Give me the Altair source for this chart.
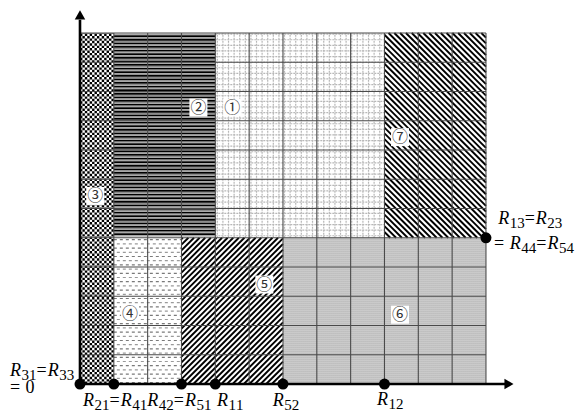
import altair as alt
import numpy as np
import pandas as pd

# ---- data ----
region_names = ["①", "②", "③", "④", "⑤", "⑥", "⑦"]
region_x0 = [4, 1, 0, 1, 3, 6, 9]
region_x1 = [9, 4, 1, 3, 6, 12, 12]
region_y0 = [5, 5, 0, 0, 0, 0, 5]
region_y1 = [12, 12, 12, 5, 5, 5, 12]
label_x = [4.5, 3.5, 0.45, 1.48, 5.45, 9.46, 9.46]
label_y = [9.45, 9.45, 6.43, 2.4, 3.4, 2.37, 8.44]

grid_ticks = list(range(13))

point_x = [0, 1, 3, 4, 6, 9, 12]
point_y = [0, 0, 0, 0, 0, 0, 5]

r_text = ["R31=R33", "= 0", "R21=R41R42=R51", "R11", "R52", "R12", "R13=R23", "= R44=R54"]
r_x = [-2.07, -2.07, 0.09, 4.05, 5.70, 8.78, 12.36, 12.24]
r_y = [0.27, -0.31, -0.75, -0.75, -0.75, -0.72, 5.47, 4.62]

# ---- layout ----
W, H = 571, 405
XD = [-2.128, 14.750]
SX = W / (XD[1] - XD[0])
SY = 29.25
YD = [12.855 - H / SY, 12.855]

xs = alt.Scale(domain=XD, nice=False, zero=False)
ys = alt.Scale(domain=YD, nice=False, zero=False)


def enc_seg():
    return dict(x=alt.X("x:Q", scale=xs, axis=None), x2="x2:Q",
                y=alt.Y("y:Q", scale=ys, axis=None), y2="y2:Q")


def enc_pt():
    return dict(x=alt.X("x:Q", scale=xs, axis=None), y=alt.Y("y:Q", scale=ys, axis=None))


def rule_layer(rows, **props):
    df = pd.DataFrame(rows, columns=["x", "y", "x2", "y2"])
    return alt.Chart(df).mark_rule(**props).encode(**enc_seg())


def reg(i):
    return region_x0[i], region_x1[i], region_y0[i], region_y1[i]


def hlines(i, period, offset=0.0):
    x0, x1, y0, y1 = reg(i)
    ys_ = np.arange(y0 * SY + offset, y1 * SY, period) / SY
    return [(x0, v, x1, v) for v in ys_ if v > y0]


def vlines(i, period, offset=0.0):
    x0, x1, y0, y1 = reg(i)
    xs_ = np.arange(x0 * SX + offset, x1 * SX, period) / SX
    return [(v, y0, v, y1) for v in xs_ if v > x0]


def diag(i, period, direction):
    x0, x1, y0, y1 = reg(i)
    X0, X1, Y0, Y1 = x0 * SX, x1 * SX, y0 * SY, y1 * SY
    segs = []
    if direction > 0:
        for c in np.arange(Y0 - X1, Y1 - X0, period):
            xa = max(X0, Y0 - c); xb = min(X1, Y1 - c)
            if xb - xa > 0.5:
                segs.append((xa / SX, (xa + c) / SY, xb / SX, (xb + c) / SY))
    else:
        for c in np.arange(X0 + Y0, X1 + Y1, period):
            xa = max(X0, c - Y1); xb = min(X1, c - Y0)
            if xb - xa > 0.5:
                segs.append((xa / SX, (c - xa) / SY, xb / SX, (c - xb) / SY))
    return segs


layers = []

# region fills
reg_df = pd.DataFrame({"name": region_names, "x": region_x0, "x2": region_x1,
                       "y": region_y0, "y2": region_y1})
fill_colors = ["#ffffff", "#ffffff", "#ffffff", "#ffffff", "#ffffff", "#cacaca", "#ffffff"]
layers.append(alt.Chart(reg_df).mark_rect(strokeWidth=0).encode(
    **enc_seg(),
    color=alt.Color("name:N", scale=alt.Scale(domain=region_names, range=fill_colors), legend=None)))

# ③ checkerboard
cw = SX / 14
chk_a, chk_b = [], []
for k in range(14):
    xc = (k + 0.5) * cw / SX
    (chk_a if k % 2 == 0 else chk_b).append((xc, 0, xc, 12))
layers.append(rule_layer(chk_a, color="black", strokeWidth=cw, strokeDash=[cw, cw]))
layers.append(rule_layer(chk_b, color="black", strokeWidth=cw, strokeDash=[cw, cw], strokeDashOffset=cw))

# ② horizontal stripes
layers.append(rule_layer(hlines(1, 3.6, 1.9), color="#8c8c8c", strokeWidth=1.2))
layers.append(rule_layer(hlines(1, 3.6, 0.0), color="#000000", strokeWidth=1.8))

# ① fine dashed grid
layers.append(rule_layer(vlines(0, 5.6, 2.0), color="#b8b8b8", strokeWidth=1.2, strokeDash=[2, 1]))
layers.append(rule_layer(hlines(0, 5.6, 2.0), color="#b8b8b8", strokeWidth=1.2, strokeDash=[2, 1]))

# ④ dashed horizontal lines
h4 = hlines(3, 4.2, 1.5)
layers.append(rule_layer(h4[0::2], color="#7a7a7a", strokeWidth=1.2, strokeDash=[3, 3]))
layers.append(rule_layer(h4[1::2], color="#9a9a9a", strokeWidth=1.2, strokeDash=[3, 3], strokeDashOffset=3))

# ⑤ "/" hatching, ⑦ "\" hatching
layers.append(rule_layer(diag(4, 5.6, 1), color="black", strokeWidth=1.9))
layers.append(rule_layer(diag(6, 5.8, -1), color="black", strokeWidth=1.9))

# ⑥ fine texture
layers.append(rule_layer(vlines(5, 2.0, 1.0), color="#b0b0b0", strokeWidth=0.8, strokeDash=[1, 1]))

# grid lines
g = [t for t in grid_ticks if t > 0]
layers.append(rule_layer([(t, 0, t, 12) for t in g], color="#4a4a4a", strokeWidth=1.1))
layers.append(rule_layer([(0, t, 12, t) for t in g], color="#4a4a4a", strokeWidth=1.1))

# axes
axes_rows = [(0, 0, 0, 12.45), (0, 0, 12.6, 0)]
layers.append(rule_layer(axes_rows, color="black", strokeWidth=2.6))
arrow_df = pd.DataFrame({"x": [0, 12.68], "y": [12.62, 0], "shape": ["triangle-up", "triangle-right"]})
layers.append(alt.Chart(arrow_df).mark_point(filled=True, color="black", size=110, opacity=1).encode(
    **enc_pt(), shape=alt.Shape("shape:N", scale=None)))

# points
pt_df = pd.DataFrame({"x": point_x, "y": point_y})
layers.append(alt.Chart(pt_df).mark_circle(color="black", size=120, opacity=1).encode(**enc_pt()))

# region labels with white boxes
lab_df = pd.DataFrame({"name": region_names, "x": label_x, "y": label_y})
lab_df["bx"] = lab_df["x"] - 9 / SX
lab_df["bx2"] = lab_df["x"] + 9 / SX
lab_df["by"] = lab_df["y"] - 9 / SY
lab_df["by2"] = lab_df["y"] + 9 / SY
layers.append(alt.Chart(lab_df).mark_rect(color="white").encode(
    x=alt.X("bx:Q", scale=xs, axis=None), x2="bx2:Q",
    y=alt.Y("by:Q", scale=ys, axis=None), y2="by2:Q"))
layers.append(alt.Chart(lab_df).mark_text(font="Noto Sans CJK JP", fontSize=16, color="#333333",
                                          align="center", baseline="middle").encode(
    **enc_pt(), text="name:N"))

# R labels: italic R, upright '=' and digits, lowered subscripts
MAIN, SUB, SUBDROP = 18, 15, 4.0
ADV = {"R": 0.64, "=": 0.62, " ": 0.25, "0": 0.5}
pieces = {"it": [], "up": [], "sub": []}
for t, x0, y0 in zip(r_text, r_x, r_y):
    off = 0.0
    prev = ""
    for ch in t:
        if ch.isdigit() and (prev == "R" or prev == "s"):
            pieces["sub"].append((ch, x0 + off / SX, y0 - SUBDROP / SY))
            off += 0.5 * SUB
            prev = "s"
            continue
        if ch == "R":
            pieces["it"].append((ch, x0 + off / SX, y0))
        elif ch != " ":
            pieces["up"].append((ch, x0 + off / SX, y0))
        off += ADV.get(ch, 0.5) * MAIN
        prev = ch

for key, style, size in [("it", "italic", MAIN), ("up", "normal", MAIN), ("sub", "normal", SUB)]:
    df = pd.DataFrame(pieces[key], columns=["t", "x", "y"])
    layers.append(alt.Chart(df).mark_text(font="Liberation Serif", fontStyle=style, fontSize=size,
                                          color="black", align="left", baseline="alphabetic").encode(
        **enc_pt(), text="t:N"))

chart = alt.layer(*layers).properties(
    width=W, height=H, padding=0, autosize=alt.AutoSizeParams(type="none"), background="white"
).configure_view(stroke=None)

chart.save("out.html", embed_options={"renderer": "svg", "actions": False})
